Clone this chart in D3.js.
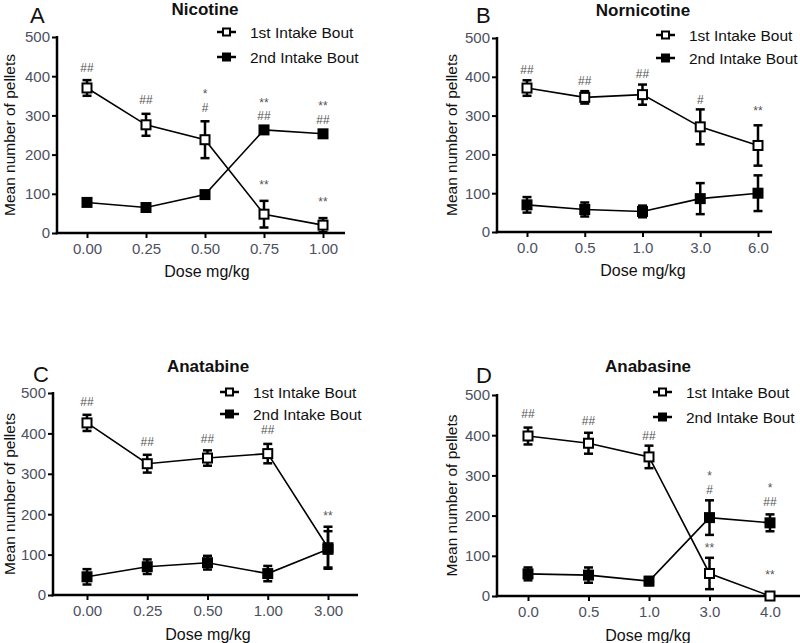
<!DOCTYPE html>
<html><head><meta charset="utf-8">
<script src="https://cdn.jsdelivr.net/npm/d3@7"></script>
<style>
body{margin:0;background:#fff;}
svg{display:block;font-family:"Liberation Sans",Arial,sans-serif;}
</style></head>
<body>
<svg id="chart" width="800" height="643"></svg>
<script>
// ---------- DATA ----------
const yTicks = [0, 100, 200, 300, 400, 500];
const seriesNames = ["1st Intake Bout", "2nd Intake Bout"];

const nicTitle = "Nicotine";
const nicDoses = ["0.00", "0.25", "0.50", "0.75", "1.00"];
const nic1 = [370, 276, 238, 48, 20];
const nic1Err = [20, 28, 47, 34, 18];
const nic2 = [78, 65, 98, 263, 253];
const nic2Err = [5, 5, 5, 5, 5];
const nicAnn = [[0, 421, "##"], [1, 340, "##"], [2, 349, "*"], [2, 319, "#"],
  [3, 332, "**"], [3, 298, "##"], [3, 129, "**"], [4, 319, "**"], [4, 289, "##"], [4, 87, "**"]];

const norTitle = "Nornicotine";
const norDoses = ["0.0", "0.5", "1.0", "3.0", "6.0"];
const nor1 = [371, 347, 354, 271, 223];
const nor1Err = [20, 16, 26, 45, 52];
const nor2 = [70, 58, 53, 86, 100];
const nor2Err = [20, 18, 15, 40, 46];
const norAnn = [[0, 418, "##"], [1, 391, "##"], [2, 408, "##"], [3, 341, "#"], [4, 320, "**"]];

const anaTitle = "Anatabine";
const anaDoses = ["0.00", "0.25", "0.50", "1.00", "3.00"];
const ana1 = [426, 325, 339, 350, 117];
const ana1Err = [20, 22, 19, 24, 52];
const ana2 = [45, 70, 80, 53, 113];
const ana2Err = [19, 18, 17, 19, 45];
const anaAnn = [[0, 479, "##"], [1, 380, "##"], [2, 388, "##"], [3, 409, "##"], [4, 202, "**"]];

const abaTitle = "Anabasine";
const abaDoses = ["0.0", "0.5", "1.0", "3.0", "4.0"];
const aba1 = [398, 380, 346, 56, 0];
const aba1Err = [21, 26, 28, 39, 0];
const aba2 = [55, 52, 37, 195, 182];
const aba2Err = [16, 19, 10, 43, 21];
const abaAnn = [[0, 454, "##"], [1, 436, "##"], [2, 400, "##"], [3, 297, "*"], [3, 265, "#"], [3, 128, "**"],
  [4, 267, "*"], [4, 234, "##"], [4, 60, "**"]];

// ---------- LAYOUT ----------
const svg = d3.select("#chart");
const tickColor = "#4c5060";

function panel(cfg) {
  const g = svg.append("g");
  const y = d3.scaleLinear().domain([0, 500]).range([cfg.y0, cfg.y500]);
  const x = d3.scalePoint().domain(cfg.doses).range([cfg.xFirst, cfg.xLast]);

  // letter + title
  g.append("text").attr("x", cfg.letterX).attr("y", cfg.letterY)
    .attr("font-size", 22).attr("fill", "#111").text(cfg.letter);
  g.append("text").attr("x", cfg.titleX).attr("y", cfg.titleY)
    .attr("text-anchor", "middle").attr("font-size", 17).attr("font-weight", "bold")
    .attr("fill", "#111").text(cfg.title);

  // y axis
  const ya = g.append("g").attr("transform", `translate(${cfg.left},0)`)
    .call(d3.axisLeft(y).tickValues(yTicks).tickSize(5).tickPadding(2).tickFormat(d3.format("d")));
  ya.select(".domain").remove();
  ya.selectAll(".tick line").attr("stroke", "#000").attr("stroke-width", 2);
  ya.selectAll(".tick text").attr("font-size", 15).attr("fill", tickColor)
    .attr("font-family", "Liberation Sans, Arial, sans-serif");
  g.append("line").attr("x1", cfg.left).attr("x2", cfg.left)
    .attr("y1", cfg.y500 - 1).attr("y2", cfg.y0 + 1.25)
    .attr("stroke", "#000").attr("stroke-width", 2.5);

  // x axis
  const xa = g.append("g").attr("transform", `translate(0,${cfg.y0})`)
    .call(d3.axisBottom(x).tickSize(5).tickPadding(5));
  xa.select(".domain").remove();
  xa.selectAll(".tick line").attr("stroke", "#000").attr("stroke-width", 2);
  xa.selectAll(".tick text").attr("font-size", 15).attr("fill", tickColor)
    .attr("font-family", "Liberation Sans, Arial, sans-serif");
  g.append("line").attr("x1", cfg.left - 1.25).attr("x2", cfg.right)
    .attr("y1", cfg.y0).attr("y2", cfg.y0)
    .attr("stroke", "#000").attr("stroke-width", 2.5);

  // axis labels
  g.append("text").attr("x", cfg.xLabelX).attr("y", cfg.xLabelY)
    .attr("text-anchor", "middle").attr("font-size", 16).attr("fill", "#111").text("Dose mg/kg");
  g.append("text").attr("transform", `translate(${cfg.yLabelX},${(cfg.y0 + cfg.y500) / 2}) rotate(-90)`)
    .attr("text-anchor", "middle").attr("font-size", 15.5).attr("fill", "#111").text("Mean number of pellets");

  const series = [
    {vals: cfg.s1, errs: cfg.e1, open: true},
    {vals: cfg.s2, errs: cfg.e2, open: false}
  ];
  const line = d3.line().x((d, i) => x(cfg.doses[i])).y(d => y(d));
  series.forEach(s => {
    g.append("path").datum(s.vals).attr("d", line)
      .attr("fill", "none").attr("stroke", "#000").attr("stroke-width", 1.6);
  });
  series.forEach(s => {
    s.vals.forEach((v, i) => {
      const cx = x(cfg.doses[i]);
      const e = s.errs[i];
      if (e <= 0) return;
      const t = y(v + e), b = y(v - e);
      g.append("line").attr("x1", cx).attr("x2", cx).attr("y1", t).attr("y2", b)
        .attr("stroke", "#000").attr("stroke-width", 2.5);
      [t, b].forEach(yy => g.append("line").attr("x1", cx - 4.5).attr("x2", cx + 4.5)
        .attr("y1", yy).attr("y2", yy).attr("stroke", "#000").attr("stroke-width", 2.5));
    });
  });
  series.forEach(s => {
    s.vals.forEach((v, i) => {
      const cx = x(cfg.doses[i]);
      g.append("rect").attr("x", cx - 4.5).attr("y", y(v) - 4.5).attr("width", 9).attr("height", 9)
        .attr("fill", s.open ? "#fff" : "#000").attr("stroke", "#000").attr("stroke-width", 2);
    });
  });

  // annotations: stacked marks at a dose are spaced so their boxes do not collide
  const fs = 12, minGap = 13.8;
  const groups = d3.group(cfg.ann, a => a[0]);
  groups.forEach((items, idx) => {
    const placed = items.map(a => ({txt: a[2], base: y(a[1]) + (a[2].indexOf("*") >= 0 ? 7 : 4.3)}))
      .sort((p, q) => q.base - p.base);
    for (let k = 1; k < placed.length; k++) {
      if (placed[k - 1].base - placed[k].base < minGap) placed[k].base = placed[k - 1].base - minGap;
    }
    placed.forEach(p => {
      g.append("text").attr("x", x(cfg.doses[idx])).attr("y", p.base)
        .attr("text-anchor", "middle").attr("font-size", fs).attr("fill", "#555").text(p.txt);
    });
  });

  // legend
  seriesNames.forEach((name, i) => {
    const ly = cfg.legY[i];
    g.append("line").attr("x1", cfg.legX).attr("x2", cfg.legX + 19).attr("y1", ly).attr("y2", ly)
      .attr("stroke", "#000").attr("stroke-width", 2.5);
    g.append("rect").attr("x", cfg.legX + 9.5 - 3.5).attr("y", ly - 3.5).attr("width", 7).attr("height", 7)
      .attr("fill", i === 0 ? "#fff" : "#000").attr("stroke", "#000").attr("stroke-width", 2);
    g.append("text").attr("x", cfg.legX + 33).attr("y", ly + 5.5)
      .attr("font-size", 15.5).attr("fill", "#111").text(name);
  });
}

panel({letter: "A", letterX: 30, letterY: 23, title: nicTitle, titleX: 205, titleY: 15,
  doses: nicDoses, s1: nic1, e1: nic1Err, s2: nic2, e2: nic2Err, ann: nicAnn,
  left: 57, right: 345, y0: 233, y500: 37, xFirst: 87, xLast: 323,
  xLabelX: 207, xLabelY: 277, yLabelX: 15, legX: 217, legY: [32, 57]});

panel({letter: "B", letterX: 476, letterY: 23, title: norTitle, titleX: 643, titleY: 16,
  doses: norDoses, s1: nor1, e1: nor1Err, s2: nor2, e2: nor2Err, ann: norAnn,
  left: 497, right: 772, y0: 232, y500: 38, xFirst: 527, xLast: 758,
  xLabelX: 643, xLabelY: 276, yLabelX: 457, legX: 656, legY: [35, 58]});

panel({letter: "C", letterX: 33, letterY: 382, title: anaTitle, titleX: 208, titleY: 372,
  doses: anaDoses, s1: ana1, e1: ana1Err, s2: ana2, e2: ana2Err, ann: anaAnn,
  left: 53, right: 358, y0: 595, y500: 393, xFirst: 87, xLast: 328,
  xLabelX: 208, xLabelY: 640, yLabelX: 15, legX: 220, legY: [392, 414]});

panel({letter: "D", letterX: 476, letterY: 383, title: abaTitle, titleX: 648, titleY: 372,
  doses: abaDoses, s1: aba1, e1: aba1Err, s2: aba2, e2: aba2Err, ann: abaAnn,
  left: 497, right: 800, y0: 596, y500: 395, xFirst: 528, xLast: 770,
  xLabelX: 648, xLabelY: 641, yLabelX: 457, legX: 653, legY: [392, 417]});
</script>
</body></html>
